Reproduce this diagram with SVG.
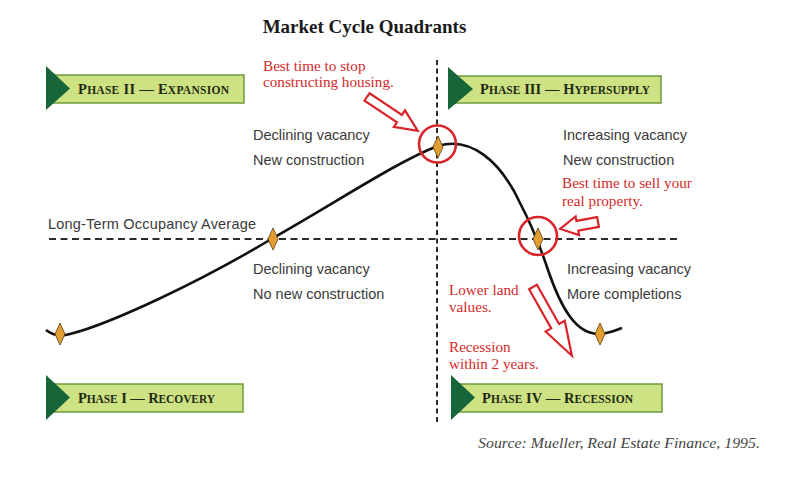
<svg xmlns="http://www.w3.org/2000/svg" width="788" height="481" viewBox="0 0 788 481">
<style>
.title{font-family:"Liberation Serif",serif;font-weight:bold;font-size:19px;fill:#1a1a1a}
.box{fill:#cde283;stroke:#6f9a3c;stroke-width:1.5}
.tri{fill:#17663a}
.ph{font-family:"Liberation Serif",serif;font-size:14.5px;fill:#1f2a12;font-weight:bold}
.ph .s{font-size:11.5px}
.lbl{font-family:"Liberation Sans",Arial,sans-serif;font-size:14.5px;fill:#3a3a3a}
.red{font-family:"Liberation Serif",serif;font-size:15.2px;fill:#d42a2a}
.dash{stroke:#2a2a2a;stroke-width:2;fill:none}
.curve{stroke:#111;stroke-width:2.6;fill:none}
.dia{fill:#e39e32;stroke:#5a3c12;stroke-width:0.8}
.ring{fill:none;stroke:#d9252a;stroke-width:2.6}
.arr{fill:#fff;stroke:#d9252a;stroke-width:2.2;stroke-linejoin:miter}
.src{font-family:"Liberation Serif",serif;font-style:italic;font-size:15.5px;fill:#444}
</style>

<text class="title" x="364.5" y="33" text-anchor="middle">Market Cycle Quadrants</text>

<g id="connectors">
  <line class="dash" x1="437" y1="60" x2="437" y2="422" stroke-dasharray="5,3.5" stroke-width="2.4"/>
  <line class="dash" x1="49" y1="239" x2="680" y2="239" stroke-dasharray="7,4.5"/>
  <path class="curve" d="M46,330 Q56,338 70,334 C110,324 200,282 273,238 C340,200 400,160 438,146 C470,136 500,160 520,203 C530,222 538,240 548,270 C560,305 575,335 600,334 C610,333 616,330 622,328"/>
</g>

<g id="phase2">
  <rect class="box" x="52" y="75" width="192" height="28"/>
  <polygon class="tri" points="46,66 70,88.5 46,110"/>
  <text class="ph" x="78" y="94" textLength="151" lengthAdjust="spacing">P<tspan class="s">HASE</tspan> II — E<tspan class="s">XPANSION</tspan></text>
</g>
<g id="phase3">
  <rect class="box" x="452" y="76" width="209" height="27"/>
  <polygon class="tri" points="448,67 473,89 448,110"/>
  <text class="ph" x="480" y="94" textLength="170" lengthAdjust="spacing">P<tspan class="s">HASE</tspan> III — H<tspan class="s">YPERSUPPLY</tspan></text>
</g>
<g id="phase1">
  <rect class="box" x="52" y="384" width="191" height="28"/>
  <polygon class="tri" points="46,375 70,397.5 46,420"/>
  <text class="ph" x="78" y="403" textLength="137" lengthAdjust="spacing">P<tspan class="s">HASE</tspan> I — R<tspan class="s">ECOVERY</tspan></text>
</g>
<g id="phase4">
  <rect class="box" x="456" y="384" width="206" height="28"/>
  <polygon class="tri" points="451,375 475,397.5 451,420"/>
  <text class="ph" x="482" y="403" textLength="151" lengthAdjust="spacing">P<tspan class="s">HASE</tspan> IV — R<tspan class="s">ECESSION</tspan></text>
</g>

<g id="labels">
  <text class="lbl" x="48" y="229" textLength="208" lengthAdjust="spacing">Long-Term Occupancy Average</text>
  <text class="lbl" x="253" y="140">Declining vacancy</text>
  <text class="lbl" x="253" y="165">New construction</text>
  <text class="lbl" x="563" y="140">Increasing vacancy</text>
  <text class="lbl" x="563" y="165">New construction</text>
  <text class="lbl" x="253" y="274">Declining vacancy</text>
  <text class="lbl" x="253" y="299">No new construction</text>
  <text class="lbl" x="567" y="274">Increasing vacancy</text>
  <text class="lbl" x="567" y="299">More completions</text>
</g>

<g id="diamonds">
  <polygon class="dia" points="60,323 65,334 60,345 55,334"/>
  <polygon class="dia" points="273,228 278,239 273,250 268,239"/>
  <polygon class="dia" points="438,136 443,147 438,158 433,147"/>
  <polygon class="dia" points="538,228 543,239 538,250 533,239"/>
  <polygon class="dia" points="600,323 605,334 600,345 595,334"/>
</g>

<g id="annotations">
  <circle class="ring" cx="437.5" cy="144" r="18.5"/>
  <circle class="ring" cx="538" cy="236" r="19"/>
  <polygon class="arr" transform="translate(367,97) rotate(33.7)" points="0,-4.5 39,-4.5 39,-10 61,0 39,10 39,4.5 0,4.5"/>
  <polygon class="arr" transform="translate(598,222) rotate(169.6)" points="0,-5 21,-5 21,-9.5 38.5,0 21,9.5 21,5 0,5"/>
  <polygon class="arr" transform="translate(533,287) rotate(60.5)" points="0,-4.5 45,-4.5 45,-11 79,0 45,11 45,4.5 0,4.5"/>
  <text class="red" x="263" y="71">Best time to stop</text>
  <text class="red" x="263" y="87">constructing housing.</text>
  <text class="red" x="562" y="188">Best time to sell your</text>
  <text class="red" x="562" y="206">real property.</text>
  <text class="red" x="449" y="295">Lower land</text>
  <text class="red" x="449" y="312">values.</text>
  <text class="red" x="449" y="352">Recession</text>
  <text class="red" x="449" y="369">within 2 years.</text>
</g>

<text class="src" x="478" y="448" textLength="282" lengthAdjust="spacingAndGlyphs">Source: Mueller, Real Estate Finance, 1995.</text>
</svg>
